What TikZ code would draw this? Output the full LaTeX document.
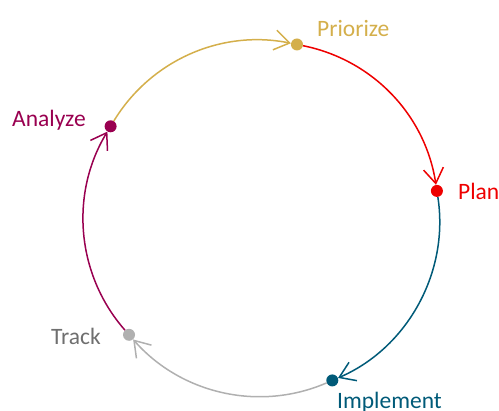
\documentclass[tikz,border=0pt]{standalone}
\usepackage{fontspec}
\setmainfont{Carlito}
\usetikzlibrary{arrows.meta}
\definecolor{cgold}{HTML}{D4AF4B}
\definecolor{cred}{HTML}{EE0000}
\definecolor{cteal}{HTML}{005A78}
\definecolor{cgray}{HTML}{B0B0B0}
\definecolor{cgraytext}{HTML}{6F6F6F}
\definecolor{cpurple}{HTML}{990050}
\begin{document}
\begin{tikzpicture}[x=1pt,y=1pt,
  dot/.style={circle,fill=#1,inner sep=0pt,minimum size=12pt},
  lbl/.style={anchor=base west,inner sep=0pt,text=#1,font=\fontsize{23.5}{26}\selectfont},
  flow/.style={draw=#1,line width=1.5pt,looseness=0.94,
    -{Straight Barb[length=15pt,width=20pt,line width=1.5pt]}}]
\useasboundingbox (0,0) rectangle (499,411);
\coordinate (c) at (262,193);
% stages placed around the cycle
\node[dot=cgold]   (pri) at ([shift={(78.6:177)}]c) {};
\node[dot=cred]    (pla) at ([shift={(8.8:177)}]c) {};
\node[dot=cteal]   (imp) at ([shift={(-66.6:177)}]c) {};
\node[dot=cgray]   (tra) at ([shift={(-138.7:177)}]c) {};
\node[dot=cpurple] (ana) at ([shift={(148.8:177)}]c) {};
% arcs, clockwise
\draw[flow=cgold]   (ana) to[out=58.8,in=168.6] (pri);
\draw[flow=cred]    (pri) to[out=-11.4,in=98.8] (pla);
\draw[flow=cteal]   (pla) to[out=-81.2,in=23.4] (imp);
\draw[flow=cgray]   (imp) to[out=-156.6,in=-48.7] (tra);
\draw[flow=cpurple] (tra) to[out=131.3,in=-121.2] (ana);
% labels
\node[lbl=cgold]     (tpri) at (317,374.3) {Priorize};
\node[lbl=cred]      (tpla) at (458,211) {Plan};
\node[lbl=cteal]     (timp) at (337,2.5) {Implement};
\node[lbl=cgraytext] (ttra) at (51,66.7) {Track};
\node[lbl=cpurple]   (tana) at (12,284) {Analyze};
\end{tikzpicture}
\end{document}
